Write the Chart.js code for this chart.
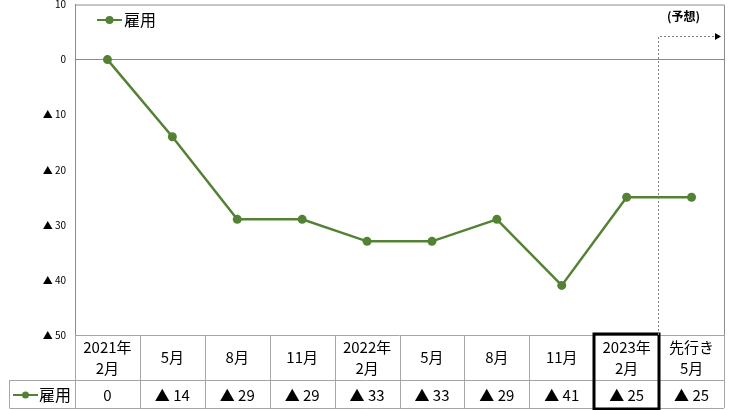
<!DOCTYPE html>
<html>
<head>
<meta charset="utf-8">
<script src="https://cdn.jsdelivr.net/npm/chart.js@4"></script>
<style>
  html, body { margin: 0; padding: 0; background: #fff; }
  #wrap { width: 737px; height: 410px; }
</style>
</head>
<body>
<div id="wrap"><canvas id="chart"></canvas></div>
<script>
// データ
const categories = [['2021年', '2月'], ['5月'], ['8月'], ['11月'], ['2022年', '2月'], ['5月'], ['8月'], ['11月'], ['2023年', '2月'], ['先行き', '5月']];
const koyou = [0, -14, -29, -29, -33, -33, -29, -41, -25, -25];
const yTicks = [10, 0, -10, -20, -30, -40, -50];
const seriesName = '雇用';
const forecastLabel = '(予想)';

const green = '#548235';
const font = '"Noto Sans CJK JP", "Noto Sans", sans-serif';

function fmt(v) {
    return v < 0 ? '▲ ' + (-v) : String(v);
}

// 表・凡例・予想矢印
const tablePlugin = {
    id: 'tablePlugin',
    afterDraw(chart) {
        const ctx = chart.ctx;
        const area = chart.chartArea;
        const x = chart.scales.x;
        const n = categories.length;
        const colW = (area.right - area.left) / n;
        const top = area.bottom;
        const mid = top + 45;
        const bot = mid + 28;

        ctx.save();
        // 枠（上・右）
        ctx.strokeStyle = '#8c8c8c';
        ctx.lineWidth = 1;
        ctx.beginPath();
        ctx.moveTo(area.left, area.top + 0.5);
        ctx.lineTo(area.right + 0.5, area.top + 0.5);
        ctx.lineTo(area.right + 0.5, bot);
        ctx.stroke();

        // 表の罫線
        ctx.strokeStyle = '#a6a6a6';
        ctx.beginPath();
        ctx.moveTo(area.left, top + 0.5);
        ctx.lineTo(area.right, top + 0.5);
        ctx.moveTo(9.5, mid + 0.5);
        ctx.lineTo(area.right, mid + 0.5);
        ctx.moveTo(9.5, bot + 0.5);
        ctx.lineTo(area.right, bot + 0.5);
        ctx.moveTo(9.5, mid);
        ctx.lineTo(9.5, bot);
        for (let i = 0; i <= n; i++) {
            const xx = Math.round(area.left + colW * i) + 0.5;
            ctx.moveTo(xx, top);
            ctx.lineTo(xx, bot);
        }
        ctx.stroke();

        // 表の文字
        ctx.fillStyle = '#000';
        ctx.textAlign = 'center';
        ctx.textBaseline = 'middle';
        ctx.font = '15px ' + font;
        categories.forEach((lines, i) => {
            const cx = x.getPixelForValue(i);
            const cy = (top + mid) / 2;
            if (lines.length === 1) {
                ctx.fillText(lines[0], cx, cy);
            } else {
                ctx.fillText(lines[0], cx, cy - 10);
                ctx.fillText(lines[1], cx, cy + 11);
            }
            ctx.fillText(fmt(koyou[i]), cx, (mid + bot) / 2 + 1);
        });

        // 行見出し
        const ry = (mid + bot) / 2 + 1;
        ctx.strokeStyle = green;
        ctx.lineWidth = 2;
        ctx.beginPath();
        ctx.moveTo(13, ry);
        ctx.lineTo(38, ry);
        ctx.stroke();
        ctx.fillStyle = green;
        ctx.beginPath();
        ctx.arc(25.5, ry, 3.5, 0, Math.PI * 2);
        ctx.fill();
        ctx.fillStyle = '#000';
        ctx.textAlign = 'left';
        ctx.font = '16px ' + font;
        ctx.fillText(seriesName, 39, ry);

        // 2023年2月 の太枠
        const bx0 = Math.round(area.left + colW * 8);
        const bx1 = Math.round(area.left + colW * 9);
        ctx.strokeStyle = '#000';
        ctx.lineWidth = 3;
        ctx.strokeRect(bx0, top - 1, bx1 - bx0, bot - top + 2);

        // 予想の点線矢印
        const ay = 36.5;
        ctx.strokeStyle = '#7f7f7f';
        ctx.lineWidth = 1;
        ctx.setLineDash([2, 2]);
        ctx.beginPath();
        ctx.moveTo(bx1 - 0.5, top);
        ctx.lineTo(bx1 - 0.5, ay);
        ctx.lineTo(area.right - 8, ay);
        ctx.stroke();
        ctx.setLineDash([]);
        ctx.fillStyle = '#000';
        ctx.beginPath();
        ctx.moveTo(area.right - 3, ay);
        ctx.lineTo(area.right - 9, ay - 3.5);
        ctx.lineTo(area.right - 9, ay + 3.5);
        ctx.closePath();
        ctx.fill();
        ctx.textAlign = 'left';
        ctx.font = 'bold 12px ' + font;
        ctx.fillText(forecastLabel, 667, 16);

        // 凡例
        const ly = 20;
        ctx.strokeStyle = green;
        ctx.lineWidth = 2;
        ctx.beginPath();
        ctx.moveTo(97, ly);
        ctx.lineTo(122, ly);
        ctx.stroke();
        ctx.fillStyle = green;
        ctx.beginPath();
        ctx.arc(109.5, ly, 4, 0, Math.PI * 2);
        ctx.fill();
        ctx.fillStyle = '#000';
        ctx.font = '16px ' + font;
        ctx.fillText(seriesName, 124, ly);
        ctx.restore();
    }
};

new Chart(document.getElementById('chart'), {
    type: 'line',
    data: {
        labels: categories.map(c => c.join('')),
        datasets: [{
            label: seriesName,
            data: koyou,
            borderColor: green,
            backgroundColor: green,
            borderWidth: 2.5,
            pointRadius: 4.5,
            pointBackgroundColor: green,
            pointBorderWidth: 0,
            tension: 0
        }]
    },
    options: {
        responsive: true,
        maintainAspectRatio: false,
        animation: false,
        layout: { padding: { left: 0, right: 13, top: 3, bottom: 75 } },
        plugins: {
            legend: { display: false },
            tooltip: { enabled: false }
        },
        scales: {
            x: {
                type: 'category',
                display: false,
                offset: true
            },
            y: {
                min: -50,
                max: 10,
                afterFit(scale) {
                    scale.width = 75;
                    scale.paddingTop = 0;
                    scale.paddingBottom = 0;
                },
                afterBuildTicks(scale) {
                    scale.ticks = yTicks.map(v => ({ value: v }));
                },
                ticks: {
                    padding: 9,
                    color: '#000',
                    font: { family: font, size: 10 },
                    callback: v => fmt(v)
                },
                grid: {
                    drawTicks: false,
                    color: ctx => ctx.tick && ctx.tick.value === 0 ? '#8c8c8c' : 'rgba(0,0,0,0)'
                },
                border: { color: '#8c8c8c' }
            }
        }
    },
    plugins: [tablePlugin]
});
</script>
</body>
</html>
